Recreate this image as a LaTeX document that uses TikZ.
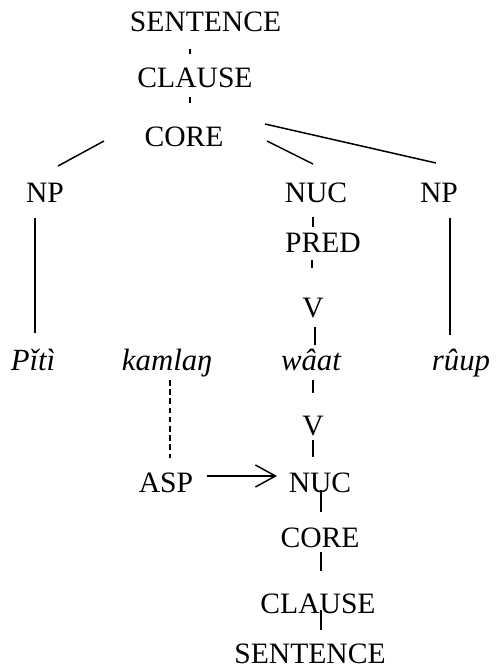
\documentclass[tikz,border=0pt]{standalone}
\usepackage{fontspec}
\setmainfont{Liberation Serif}
\usetikzlibrary{arrows.meta}
\begin{document}
\begin{tikzpicture}[x=0.5pt,y=-0.5pt,
  lab/.style={anchor=base,inner sep=0pt,font=\fontsize{14.8}{17}\selectfont},
  word/.style={anchor=base,inner sep=0pt,font=\fontsize{15.4}{18}\selectfont\itshape},
  conn/.style={line width=0.75pt},
  dconn/.style={line width=0.75pt,dash pattern=on 2.8pt off 1.8pt},
  arr/.style={line width=0.75pt,-{Straight Barb[length=10pt,width=11pt,line width=0.75pt]}}]
\useasboundingbox (0,0) rectangle (500,669);
% nodes
\node[lab] (s1) at (205.5,32) {SENTENCE};
\node[lab] (cl1) at (195,87) {CLAUSE};
\node[lab] (co1) at (184,146) {CORE};
\node[lab] (np1) at (45,202) {NP};
\node[lab] (nuc1) at (316,202) {NUC};
\node[lab] (np2) at (439,202) {NP};
\node[lab] (pred) at (323,252) {PRED};
\node[lab] (v1) at (313,317) {V};
\node[word] (piti) at (33,370) {Pǐtì};
\node[word] (kamlan) at (167,370) {kamlaŋ};
\node[word] (waat) at (311,370) {wâat};
\node[word] (ruup) at (461,370) {rûup};
\node[lab] (v2) at (313,435) {V};
\node[lab] (asp) at (166,492) {ASP};
\node[lab] (nuc2) at (320,492) {NUC};
\node[lab] (co2) at (320,547) {CORE};
\node[lab] (cl2) at (318,613) {CLAUSE};
\node[lab] (s2) at (310,663) {SENTENCE};
% connector end points
\coordinate (s1b) at (190,49);   \coordinate (cl1t) at (190,54);
\coordinate (cl1b) at (190,97);  \coordinate (co1t) at (190,103);
\coordinate (co1l) at (104,141); \coordinate (np1t) at (58,166);
\coordinate (co1m) at (267,141); \coordinate (nuc1t) at (313,164);
\coordinate (co1r) at (265,124); \coordinate (np2t) at (436,163);
\coordinate (nuc1b) at (313,217); \coordinate (predt) at (313,227);
\coordinate (np1b) at (35,218);  \coordinate (pitit) at (35,333);
\coordinate (np2b) at (450,218); \coordinate (ruupt) at (450,335);
\coordinate (predb) at (312,260); \coordinate (v1t) at (312,268);
\coordinate (v1b) at (315,327);  \coordinate (waatt) at (315,345);
\coordinate (waatb) at (313,380); \coordinate (v2t) at (313,393);
\coordinate (kamb) at (170,380); \coordinate (aspt) at (170,458);
\coordinate (v2b) at (313,440);  \coordinate (nuc2t) at (313,457);
\coordinate (aspr) at (207,476); \coordinate (nuc2l) at (277,476);
\coordinate (nuc2b) at (321,490); \coordinate (co2t) at (321,512);
\coordinate (co2b) at (321,552); \coordinate (cl2t) at (321,571);
\coordinate (cl2b) at (321,610); \coordinate (s2t) at (321,630);
% connectors
\draw[conn] (s1b) -- (cl1t);
\draw[conn] (cl1b) -- (co1t);
\draw[conn] (co1l) -- (np1t);
\draw[conn] (co1m) -- (nuc1t);
\draw[conn] (co1r) -- (np2t);
\draw[conn] (nuc1b) -- (predt);
\draw[conn] (np1b) -- (pitit);
\draw[conn] (np2b) -- (ruupt);
\draw[conn] (predb) -- (v1t);
\draw[conn] (v1b) -- (waatt);
\draw[conn] (waatb) -- (v2t);
\draw[dconn] (kamb) -- (aspt);
\draw[conn] (v2b) -- (nuc2t);
\draw[arr] (aspr) -- (nuc2l);
\draw[conn] (nuc2b) -- (co2t);
\draw[conn] (co2b) -- (cl2t);
\draw[conn] (cl2b) -- (s2t);
\end{tikzpicture}
\end{document}
